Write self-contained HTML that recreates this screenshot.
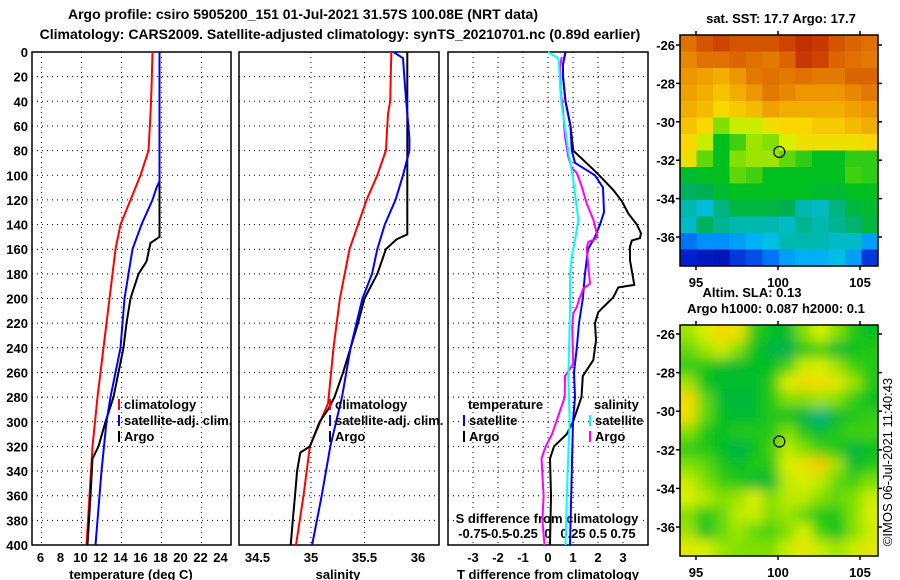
<!DOCTYPE html>
<html><head><meta charset="utf-8"><style>
html,body{margin:0;padding:0;background:#fff;}
svg{display:block;font-family:"Liberation Sans",Arial,sans-serif;font-weight:bold;}
</style></head><body>
<svg id="fig" width="900" height="580" viewBox="0 0 900 580" xmlns="http://www.w3.org/2000/svg">
<defs>
<filter id="blur" x="0" y="0" width="1" height="1"><feGaussianBlur stdDeviation="6"/></filter>
<clipPath id="clip2"><rect x="680" y="325" width="198" height="231"/></clipPath>
<clipPath id="clip1"><rect x="680" y="35" width="198" height="231"/></clipPath>
</defs>
<text x="303" y="19" font-size="14" text-anchor="middle">Argo profile: csiro 5905200_151 01-Jul-2021 31.57S 100.08E (NRT data)</text>
<text x="340" y="39" font-size="14" text-anchor="middle">Climatology: CARS2009. Satellite-adjusted climatology: synTS_20210701.nc (0.89d earlier)</text>
<g id="g"></g>
</svg>
<script>
// ---- profile data (depth in m) ----
const climTDepth=[0,30,50,80,90,100,110,120,140,160,180,200,240,280,320,360,400];
const climTVal=[17.1,17.0,16.9,16.7,16.3,15.9,15.4,14.9,13.9,13.4,13.1,12.8,12.2,11.6,11.1,10.8,10.5];
const satTDepth=[0,105,110,120,140,160,180,200,240,280,300,340,400];
const satTVal=[17.8,17.8,17.5,17.1,16.0,15.1,14.7,14.3,13.9,12.9,12.5,12.0,11.4];
const argoTDepth=[0,150,155,170,180,200,220,240,260,280,300,320,330,360,400];
const argoTVal=[17.8,17.8,16.9,16.5,15.7,14.9,14.5,14.2,13.7,13.2,12.4,11.7,11.1,10.9,10.6];

const climSDepth=[0,40,50,80,100,120,160,200,240,285,320,360,400];
const climSVal=[35.75,35.74,35.72,35.70,35.62,35.52,35.36,35.27,35.21,35.16,34.99,34.93,34.86];
const satSDepth=[0,5,30,70,80,100,120,140,160,180,200,240,280,320,360,400];
const satSVal=[35.77,35.86,35.88,35.92,35.92,35.86,35.79,35.69,35.62,35.57,35.48,35.37,35.29,35.18,35.10,35.01];
const argoSDepth=[0,148,152,160,180,200,220,240,260,280,290,300,320,325,340,360,380,400];
const argoSVal=[35.90,35.90,35.80,35.70,35.62,35.50,35.44,35.37,35.30,35.22,35.16,35.08,34.99,34.90,34.87,34.85,34.83,34.81];

const satTdDepth=[0,10,20,40,60,80,90,100,110,130,140,150,160,180,200,220,240,260,280,300,340,400];
const satTdVal=[0.7,0.6,0.6,0.7,0.9,0.95,1.08,1.88,2.2,2.24,2.08,1.88,1.6,1.48,1.39,1.24,1.15,1.04,1.08,1.0,0.95,0.88];
const argoTdDepth=[0,10,20,40,60,80,98,112,121,131,140,147,151,153,158,169,189,191,199,207,211,220,234,250,263,280,300,310,320,330,360,400];
const argoTdVal=[0.7,0.6,0.6,0.7,0.9,1.01,1.95,2.61,2.95,3.21,3.55,3.72,3.68,3.35,3.28,3.28,3.45,2.81,2.61,2.21,2.01,1.88,1.92,1.81,1.39,1.34,1.0,0.75,0.24,0.08,0.12,0.08];
const satSdDepth=[0,5,9,28,44,61,80,104,126,136,153,166,180,207,234,263,300,340,400];
const satSdVal=[0,0.10,0.11,0.12,0.137,0.17,0.203,0.253,0.287,0.303,0.27,0.237,0.22,0.22,0.213,0.203,0.217,0.196,0.175];
const argoSdDepth=[4,12,31,50,69,85,94,98,109,123,136,149,152,154,159,174,188,192,199,207,212,223,239,253,263,280,290,300,310,320,330,360,380,400];
const argoSdVal=[0.137,0.12,0.127,0.153,0.17,0.203,0.237,0.287,0.337,0.387,0.453,0.493,0.47,0.403,0.387,0.403,0.42,0.353,0.32,0.287,0.253,0.243,0.247,0.253,0.17,0.167,0.125,0.083,0.04,-0.023,-0.065,-0.044,-0.056,-0.035];

const depthTicks=[0,20,40,60,80,100,120,140,160,180,200,220,240,260,280,300,320,340,360,380,400];
const tempTicks=[6,8,10,12,14,16,18,20,22,24];
const salTicks=[34.5,35,35.5,36];
const tdTicks=[-3,-2,-1,0,1,2,3];
const sdTickLabels=["-0.75","-0.5","-0.25","0","0.25","0.5","0.75"];
const lonTicks=[95,100,105];
const latTicks=[26,28,30,32,34,36];

// ---- map grids (0..1 colour index), rows north->south ----
const sstGrid=[
[0.8,0.85,0.88,0.85,0.85,0.85,0.88,0.92,0.9,0.85,0.82,0.8],
[0.75,0.8,0.8,0.82,0.8,0.78,0.82,0.9,0.88,0.82,0.8,0.78],
[0.72,0.7,0.68,0.72,0.78,0.8,0.78,0.8,0.78,0.78,0.82,0.82],
[0.7,0.68,0.65,0.68,0.72,0.78,0.75,0.72,0.72,0.72,0.75,0.78],
[0.68,0.66,0.62,0.64,0.66,0.7,0.68,0.68,0.68,0.68,0.7,0.72],
[0.65,0.62,0.5,0.55,0.55,0.6,0.62,0.62,0.64,0.64,0.66,0.68],
[0.62,0.55,0.42,0.46,0.52,0.5,0.56,0.6,0.6,0.6,0.6,0.62],
[0.6,0.48,0.42,0.5,0.52,0.52,0.48,0.45,0.42,0.42,0.45,0.45],
[0.4,0.42,0.42,0.48,0.46,0.42,0.42,0.42,0.42,0.42,0.46,0.45],
[0.35,0.36,0.4,0.42,0.42,0.42,0.42,0.42,0.4,0.4,0.42,0.42],
[0.3,0.26,0.33,0.38,0.38,0.38,0.36,0.3,0.28,0.33,0.38,0.4],
[0.28,0.35,0.32,0.3,0.3,0.3,0.28,0.32,0.3,0.32,0.34,0.38],
[0.15,0.18,0.18,0.2,0.22,0.25,0.3,0.3,0.3,0.28,0.28,0.2],
[0.08,0.06,0.05,0.1,0.12,0.15,0.2,0.22,0.22,0.25,0.2,0.1]];
const slaGrid=[
[0.52,0.56,0.62,0.6,0.45,0.42,0.4,0.5,0.56,0.5,0.44,0.42],
[0.48,0.52,0.55,0.5,0.42,0.38,0.36,0.44,0.46,0.4,0.42,0.44],
[0.45,0.44,0.42,0.4,0.42,0.42,0.46,0.55,0.56,0.52,0.46,0.44],
[0.52,0.42,0.4,0.42,0.4,0.44,0.56,0.62,0.6,0.58,0.52,0.44],
[0.62,0.48,0.4,0.38,0.4,0.44,0.5,0.5,0.52,0.5,0.45,0.42],
[0.6,0.48,0.42,0.4,0.4,0.44,0.42,0.38,0.33,0.4,0.44,0.45],
[0.5,0.44,0.42,0.44,0.44,0.44,0.5,0.44,0.4,0.44,0.46,0.46],
[0.45,0.44,0.42,0.36,0.42,0.46,0.54,0.5,0.46,0.44,0.38,0.42],
[0.5,0.48,0.44,0.42,0.44,0.44,0.56,0.6,0.64,0.52,0.4,0.44],
[0.55,0.5,0.46,0.44,0.4,0.4,0.54,0.56,0.54,0.48,0.46,0.5],
[0.56,0.54,0.5,0.52,0.56,0.5,0.54,0.54,0.5,0.48,0.5,0.55],
[0.5,0.44,0.48,0.54,0.55,0.5,0.52,0.48,0.44,0.44,0.5,0.56],
[0.52,0.42,0.48,0.52,0.48,0.46,0.5,0.56,0.46,0.42,0.5,0.55],
[0.58,0.56,0.52,0.5,0.5,0.5,0.55,0.58,0.55,0.52,0.55,0.58]];
const argoLon=100.08, argoLat=31.57;

const NS="http://www.w3.org/2000/svg";
const G=document.getElementById('g');
function el(tag,attrs,parent){const e=document.createElementNS(NS,tag);for(const k in attrs)e.setAttribute(k,attrs[k]);(parent||G).appendChild(e);return e;}
function txt(x,y,s,size,anchor,name,parent){const t=el('text',{x:x,y:y,'font-size':size,'text-anchor':anchor||'middle'},parent);t.textContent=s;


return t;}

const yD=d=>52+d*1.2325;
const xT=t=>41.5+(t-6)*10;
const xS=s=>311+(s-35)*107;
const xTd=v=>548+v*25;
const xSd=v=>548+v*100;
const panels=[[32,239,'temperature-panel'],[239,439,'salinity-panel'],[448,648,'difference-panel']];

function vgrid(x){const l=el('line',{x1:x,x2:x,y1:52,y2:545,stroke:'#000','stroke-width':1,'stroke-dasharray':'1,4'});

}
// panels
const pr=[[32,231],[239,439],[448,648]];
pr.forEach((p,i)=>{
  depthTicks.forEach(d=>{if(d>0&&d<400){const l=el('line',{x1:p[0],x2:p[1],y1:yD(d),y2:yD(d),stroke:'#000','stroke-width':1,'stroke-dasharray':'1,4'});
  
  }});
});
[6,10,14,18,22].forEach(t=>vgrid(xT(t)));
[35,35.5].forEach(s=>vgrid(xS(s)));
tdTicks.forEach(v=>vgrid(xTd(v)));
pr.forEach((p,i)=>{const r=el('rect',{x:p[0],y:52,width:p[1]-p[0],height:493,fill:'none',stroke:'#000','stroke-width':1.5});

});

depthTicks.forEach(d=>txt(28,yD(d)+5,String(d),13,'end','depth-tick-label'));
tempTicks.forEach(t=>txt(xT(t)-1,562,String(t),13,'middle','temperature-tick-label'));
salTicks.forEach(s=>txt(xS(s),562,String(s),13,'middle','salinity-tick-label'));
tdTicks.forEach(v=>txt(xTd(v),562,String(v),13,'middle','t-difference-tick-label'));
txt(131,579,'temperature (deg C)',13,'middle','temperature-axis-title');
txt(338,579,'salinity',13,'middle','salinity-axis-title');
txt(548,579,'T difference from climatology',13,'middle','t-difference-axis-title');
const bgS=el('rect',{x:455,y:510,width:184,height:32,fill:'#fff'});


txt(547,523,'S difference from climatology',13,'middle','s-difference-axis-title');
sdTickLabels.forEach((s,i)=>{txt(xSd(-0.75+i*0.25),538,s,13,'middle','s-difference-tick-label');});

function series(depths,vals,xf,color,name){
  const pts=depths.map((d,i)=>xf(vals[i]).toFixed(1)+','+yD(d).toFixed(1)).join(' ');
  const p=el('polyline',{points:pts,fill:'none',stroke:color,'stroke-width':2,'stroke-linejoin':'miter'});
  
  
}
series(climTDepth,climTVal,xT,'#ff0000','temperature-climatology-line');
series(argoTDepth,argoTVal,xT,'#000','temperature-argo-line');
series(satTDepth,satTVal,xT,'#0000ff','temperature-satellite-line');
series(climSDepth,climSVal,xS,'#ff0000','salinity-climatology-line');
series(argoSDepth,argoSVal,xS,'#000','salinity-argo-line');
series(satSDepth,satSVal,xS,'#0000ff','salinity-satellite-line');
series(argoTdDepth,argoTdVal,xTd,'#000','t-diff-argo-line');
series(satTdDepth,satTdVal,xTd,'#0000ff','t-diff-satellite-line');
series(argoSdDepth,argoSdVal,xSd,'#ff00ff','s-diff-argo-line');
series(satSdDepth,satSdVal,xSd,'#00ffff','s-diff-satellite-line');

function legend(x,y,color,label,name){
  const b=el('rect',{x:x,y:y-10,width:2,height:11,fill:color});
  
  
  txt(x+6,y,label,13,'start',name);
}
[[118,'climatology','#ff0000'],[118,'satellite-adj. clim.','#0000ff'],[118,'Argo','#000']].forEach((l,i)=>legend(l[0],409+i*16,l[2],l[1],'legend-entry'));
[[329,'climatology','#ff0000'],[329,'satellite-adj. clim.','#0000ff'],[329,'Argo','#000']].forEach((l,i)=>legend(l[0],409+i*16,l[2],l[1],'legend-entry'));
txt(468,409,'temperature',13,'start','legend-title-temperature');
txt(594,409,'salinity',13,'start','legend-title-salinity');
legend(463,425,'#0000ff','satellite','legend-entry');
legend(463,441,'#000','Argo','legend-entry');
legend(589,425,'#00ffff','satellite','legend-entry');
legend(589,441,'#ff00ff','Argo','legend-entry');

// ---- maps ----
const stops=[[0,'#000090'],[0.08,'#0020d0'],[0.16,'#0080ff'],[0.24,'#00c0f0'],[0.3,'#00b8b0'],[0.36,'#00b050'],[0.42,'#00c020'],[0.5,'#80e000'],[0.56,'#d8f000'],[0.62,'#f8d800'],[0.7,'#f0a000'],[0.8,'#e07000'],[0.9,'#c83800'],[1,'#a01000']];
function hex(c){return [1,3,5].map(i=>parseInt(c.substr(i,2),16));}
function cmap(v){v=Math.max(0,Math.min(1,v));for(let i=1;i<stops.length;i++){if(v<=stops[i][0]){const a=stops[i-1],b=stops[i];const f=(v-a[0])/(b[0]-a[0]);const ca=hex(a[1]),cb=hex(b[1]);return 'rgb('+ca.map((c,k)=>Math.round(c+(cb[k]-c)*f)).join(',')+')';}}return stops[stops.length-1][1];}
function drawMap(grid,top,blur,name,latY){
  const g=el('g',{'clip-path':blur?'url(#clip2)':'url(#clip1)'});
  
  
  const inner=el('g',blur?{filter:'url(#blur)'}:{},g);
  const rows=grid.length,cols=grid[0].length,w=198/cols,h=231/rows;
  const pad=blur?12:0;
  grid.forEach((row,r)=>row.forEach((v,c)=>{
    let x=680+c*w,y=top+r*h,ww=w+0.6,hh=h+0.6;
    if(blur){if(c==0){x-=pad;ww+=pad;}if(c==cols-1)ww+=pad;if(r==0){y-=pad;hh+=pad;}if(r==rows-1)hh+=pad;}
    const rc=el('rect',{x:x,y:y,width:ww,height:hh,fill:cmap(v)},inner);
    
    
  }));
  const fr=el('rect',{x:680,y:top,width:198,height:231,fill:'none',stroke:'#000','stroke-width':1.5});
  
  
  const xL=l=>778+(l-100)*16.4;
  lonTicks.forEach(l=>{
    el('line',{x1:xL(l),x2:xL(l),y1:top-4,y2:top,stroke:'#000','stroke-width':1.5});
    el('line',{x1:xL(l),x2:xL(l),y1:top+231,y2:top+235,stroke:'#000','stroke-width':1.5});
    txt(xL(l),top+252,String(l),13,'middle','longitude-tick-label');
  });
  latTicks.forEach(la=>{const y=latY(la);
    el('line',{x1:676,x2:680,y1:y,y2:y,stroke:'#000','stroke-width':1.5});
    el('line',{x1:878,x2:882,y1:y,y2:y,stroke:'#000','stroke-width':1.5});
    txt(675,y+5,'-'+la,13,'end','latitude-tick-label');
  });
  const c=el('circle',{cx:xL(argoLon),cy:latY(argoLat),r:5.5,fill:'none',stroke:'#000','stroke-width':1.2});
  
  
}
drawMap(sstGrid,35,false,'sst-map',la=>45+(la-26)*19.2);
drawMap(slaGrid,325,true,'sla-map',la=>334+(la-26)*19.3);
txt(781,23,'sat. SST: 17.7 Argo: 17.7',13,'middle','sst-map-title');
txt(752,297,'Altim. SLA: 0.13',13,'middle','sla-map-title');
txt(776,313,'Argo h1000: 0.087 h2000: 0.1',13,'middle','argo-height-title');
const cp=txt(0,0,'©IMOS 06-Jul-2021 11:40:43',13,'middle','copyright-timestamp');
cp.setAttribute('font-weight','normal');
cp.setAttribute('transform','translate(892,462) rotate(-90)');
</script>
</body></html>
